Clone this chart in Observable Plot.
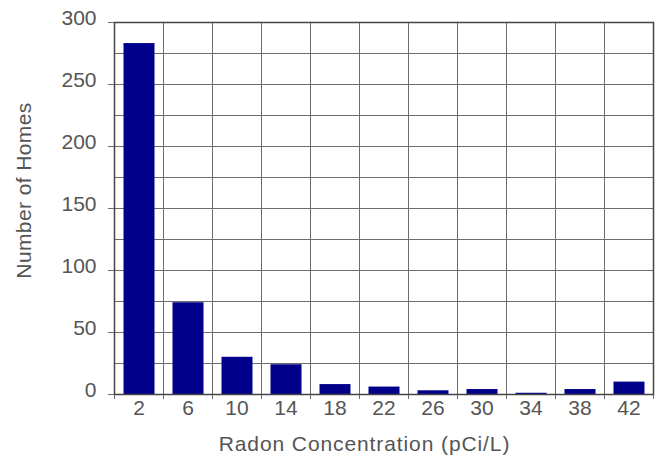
<!DOCTYPE html>
<html>
<head>
<meta charset="utf-8">
<script src="https://cdn.jsdelivr.net/npm/d3@7"></script>
<script src="https://cdn.jsdelivr.net/npm/@observablehq/plot@0.6"></script>
<style>
  html, body { margin: 0; padding: 0; background: #fff; }
  svg { display: block; }
</style>
</head>
<body>
<div id="chart"></div>
<script>
// Bin centres (pCi/L) and counts of homes
const centers = [2, 6, 10, 14, 18, 22, 26, 30, 34, 38, 42];
const homes = [283, 74, 30, 24, 8, 6, 3, 4, 1, 4, 10];
const binWidth = 4;
// Axis / grid values
const yTicks = [0, 50, 100, 150, 200, 250, 300];
const yGrid = [0, 25, 50, 75, 100, 125, 150, 175, 200, 225, 250, 275, 300];
const xBounds = [0, 4, 8, 12, 16, 20, 24, 28, 32, 36, 40, 44];
const xTitle = "Radon Concentration (pCi/L)";
const yTitle = "Number of Homes";

const data = centers.map((c, i) => ({x1: c - binWidth / 2, x2: c + binWidth / 2, c, v: homes[i]}));

const gridColor = "#6e6e6e";
const textColor = "#555555";

const chart = Plot.plot({
  width: 660,
  height: 456,
  marginLeft: 114,
  marginRight: 7,
  marginTop: 22,
  marginBottom: 62,
  style: {fontFamily: "'Liberation Sans', Arial, sans-serif", fontSize: "21px", color: textColor, background: "#fff"},
  x: {domain: [0, 44]},
  y: {domain: [0, 300]},
  marks: [
    Plot.ruleY(yGrid, {stroke: gridColor, strokeWidth: 1}),
    Plot.ruleX(xBounds, {stroke: gridColor, strokeWidth: 1}),
    Plot.rectY(data, {x1: "x1", x2: "x2", y: "v", fill: "#00008a", insetLeft: 9.5, insetRight: 8.5}),
    Plot.axisY({ticks: yTicks, tickSize: 6, tickFormat: () => "", stroke: gridColor, label: null}),
    Plot.axisY({ticks: yTicks, tickSize: 0, tickPadding: 18, dy: -4, fill: textColor, label: null}),
    Plot.axisX({ticks: xBounds, tickSize: 5, tickFormat: () => "", stroke: gridColor, label: null}),
    Plot.axisX({ticks: centers, tickSize: 0, tickPadding: 6, fill: textColor, label: null}),
    Plot.text([yTitle], {frameAnchor: "left", textAnchor: "middle", lineAnchor: "middle", rotate: -90, dx: -90, dy: -18, fill: textColor, fontSize: 21}),
    Plot.text([xTitle], {frameAnchor: "bottom", textAnchor: "middle", lineAnchor: "middle", dx: -19.5, dy: 50, fill: textColor, fontSize: 21}),
    Plot.frame({stroke: "#444", strokeWidth: 1.5})
  ]
});
// widen the titles slightly to match the reference's stretched lettering
chart.querySelectorAll("text").forEach(t => {
  if (t.textContent === xTitle) t.setAttribute("letter-spacing", "0.9");
  if (t.textContent === yTitle) t.setAttribute("letter-spacing", "0.4");
});
document.getElementById("chart").appendChild(chart);
</script>
</body>
</html>
